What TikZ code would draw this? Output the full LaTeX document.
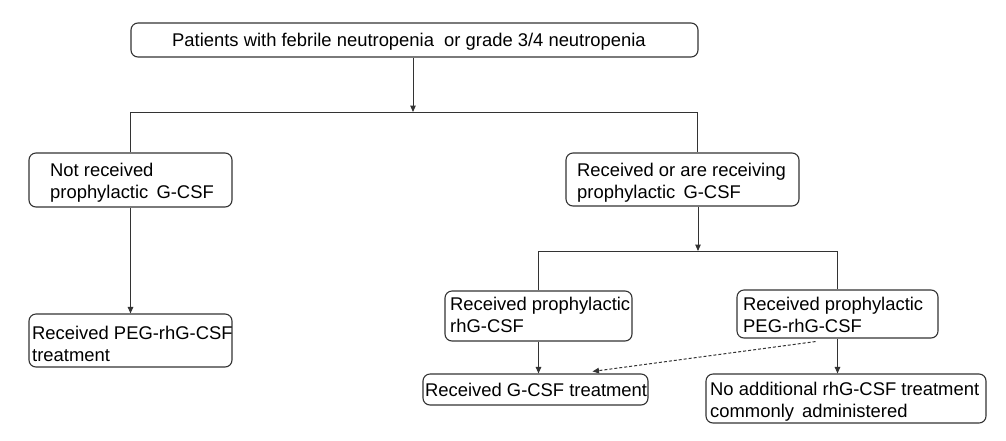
\documentclass[tikz,border=0pt]{standalone}
\usepackage{fontspec}
\setmainfont{Liberation Sans}
\usetikzlibrary{arrows.meta}
\definecolor{linec}{HTML}{333333}
\begin{document}
\begin{tikzpicture}[x=1pt,y=-1pt,
  box/.style={draw=linec, line width=1.1pt, rounded corners=7pt, inner sep=0pt},
  txt/.style={font=\fontsize{18.4}{21.5}\selectfont, align=left, inner sep=0pt, anchor=base west},
  conn/.style={draw=linec, line width=1pt},
  arr/.style={conn, -{Triangle[length=6.5pt,width=5.5pt]}},
  dasharr/.style={arr, dash pattern=on 3pt off 2pt}
]
\useasboundingbox (0,0) rectangle (1006,440);

% boxes
\node[box, minimum width=567pt, minimum height=34pt] (top) at (414.5,40) {};
\node[box, minimum width=203pt, minimum height=54pt] (notrec) at (130.5,180) {};
\node[box, minimum width=203pt, minimum height=53pt] (pegtreat) at (130.5,340.5) {};
\node[box, minimum width=233pt, minimum height=53pt] (rec) at (682.5,179.5) {};
\node[box, minimum width=187pt, minimum height=50pt] (rhg) at (538.5,316) {};
\node[box, minimum width=201pt, minimum height=48pt] (peg) at (837.5,314) {};
\node[box, minimum width=225pt, minimum height=31pt] (gcsf) at (535.5,389.5) {};
\node[box, minimum width=280pt, minimum height=49pt] (noadd) at (846,398.5) {};

% texts (base anchor = baseline of the last line)
\node[txt, anchor=base] (top-t) at (409,46.5) {Patients with febrile neutropenia\ \ or grade 3/4 neutropenia};
\node[txt] (notrec-t) at (50,198) {Not received\\prophylactic\ \,G-CSF};
\node[txt] (pegtreat-t) at (32,361) {Received PEG-rhG-CSF\\treatment};
\node[txt] (rec-t) at (577,198) {Received or are receiving\\prophylactic\ \,G-CSF};
\node[txt] (rhg-t) at (450,332) {Received prophylactic\\rhG-CSF};
\node[txt] (peg-t) at (743,332) {Received prophylactic\\PEG-rhG-CSF};
\node[txt] (gcsf-t) at (425,396) {Received G-CSF treatment};
\node[txt] (noadd-t) at (710,417) {No additional rhG-CSF treatment\\commonly\ \,administered};

% junction coordinates
\coordinate (j1) at (413,112);
\coordinate (rj) at (697,112);
\coordinate (j2) at (698,251);

% connectors
\draw[arr] (top.south -| j1) -- (j1);
\draw[conn] (notrec.north) -- (notrec.north |- j1) -- (rj) -- (rj |- rec.north);
\draw[arr] (notrec.south) -- (pegtreat.north);
\draw[arr] (j2 |- rec.south) -- (j2);
\draw[conn] (rhg.north) -- (rhg.north |- j2) -- (peg.north |- j2) -- (peg.north);
\draw[arr] (rhg.south) -- (rhg.south |- gcsf.north);
\draw[arr] (peg.south) -- (peg.south |- noadd.north);
\draw[dasharr] ([xshift=-22pt,yshift=-3pt]peg.south) -- ([xshift=57pt,yshift=2pt]gcsf.north);
\end{tikzpicture}
\end{document}
